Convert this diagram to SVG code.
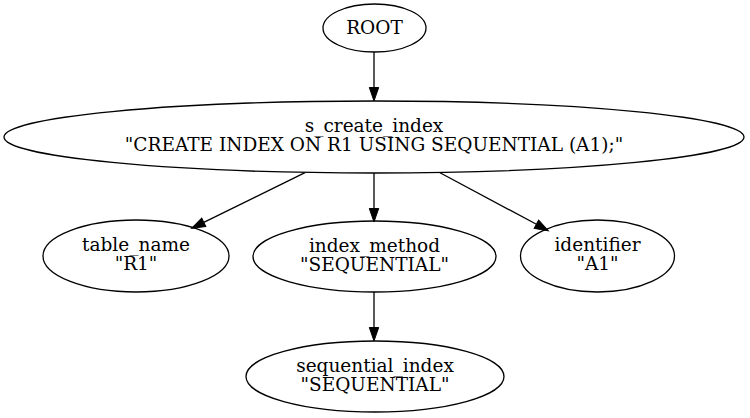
<svg xmlns="http://www.w3.org/2000/svg" width="750" height="418" viewBox="0 0 750 418">
<style>
.n ellipse{fill:none;stroke:#000;stroke-width:1.3}
.n text{font-family:"DejaVu Serif",serif;font-size:18.5px;fill:#000;text-anchor:middle}
.e line{stroke:#000;stroke-width:1.3}
</style>
<defs>
<marker id="ah" markerUnits="userSpaceOnUse" markerWidth="14" markerHeight="10" refX="0" refY="4.7" orient="auto" overflow="visible">
<path d="M0,0 L13.5,4.7 L0,9.4 Z" fill="#000" stroke="#000" stroke-width="1"/>
</marker>
</defs>
<rect width="750" height="418" fill="#fff"/>
<g id="edges" class="e">
<line x1="374" y1="52" x2="374" y2="87.5" marker-end="url(#ah)"/>
<line x1="374" y1="173" x2="374" y2="208.5" marker-end="url(#ah)"/>
<line x1="305" y1="172.7" x2="203.8" y2="222.35" marker-end="url(#ah)"/>
<line x1="440" y1="172.7" x2="536.4" y2="224.3" marker-end="url(#ah)"/>
<line x1="374" y1="292" x2="374" y2="327.5" marker-end="url(#ah)"/>
</g>
<g id="root" class="n">
<ellipse cx="374.5" cy="28" rx="51.5" ry="24"/>
<text x="374.5" y="34">ROOT</text>
</g>
<g id="s_create_index" class="n">
<ellipse cx="374" cy="137" rx="370" ry="36"/>
<text x="374" y="131.5">s_create_index</text>
<text x="374" y="150.5">"CREATE INDEX ON R1 USING SEQUENTIAL (A1);"</text>
</g>
<g id="table_name" class="n">
<ellipse cx="136" cy="256" rx="93" ry="36"/>
<text x="136" y="251">table_name</text>
<text x="136" y="270">"R1"</text>
</g>
<g id="index_method" class="n">
<ellipse cx="374.5" cy="256.5" rx="121.5" ry="35.5"/>
<text x="374.5" y="251.5">index_method</text>
<text x="374.5" y="270.5">"SEQUENTIAL"</text>
</g>
<g id="identifier" class="n">
<ellipse cx="597.5" cy="256" rx="77" ry="36"/>
<text x="597.5" y="251">identifier</text>
<text x="597.5" y="270">"A1"</text>
</g>
<g id="sequential_index" class="n">
<ellipse cx="375" cy="376.5" rx="129" ry="35.5"/>
<text x="375" y="371.5">sequential_index</text>
<text x="375" y="390.5">"SEQUENTIAL"</text>
</g>
</svg>
